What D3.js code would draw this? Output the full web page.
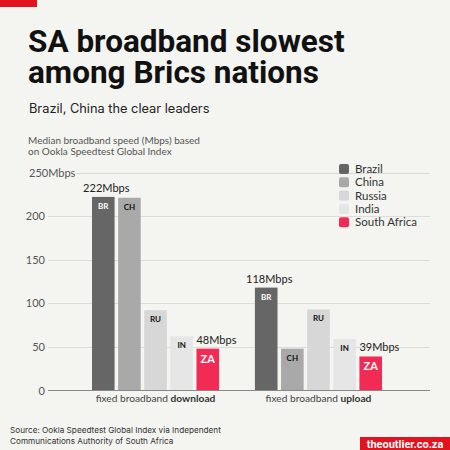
<!DOCTYPE html>
<html>
<head>
<meta charset="utf-8">
<script src="https://cdn.jsdelivr.net/npm/d3@7"></script>
<style>
  html, body { margin: 0; padding: 0; background: #f4f4f0; }
  svg { display: block; }
</style>
</head>
<body>
<script>
const width = 450;
const height = 450;

// data
const countries = ["Brazil", "China", "Russia", "India", "South Africa"];
const codes = ["BR", "CH", "RU", "IN", "ZA"];
const metrics = ["download", "upload"];
const download = [222, 221, 92, 62, 48];
const upload = [118, 48, 93, 59, 39];
const yTicks = [0, 50, 100, 150, 200, 250];
const colors = ["#666666", "#a9a9a9", "#d7d7d7", "#e6e6e6", "#f22b55"];
const codeColors = ["#ffffff", "#111111", "#111111", "#111111", "#ffffff"];

const values = { download: download, upload: upload };
const chartFont = "Lato, 'DejaVu Sans', sans-serif";

const svg = d3.select("body")
    .append("svg")
    .attr("width", width)
    .attr("height", height);

svg.append("rect")
    .attr("width", width)
    .attr("height", height)
    .attr("fill", "#f4f4f0");

// red tab top-left
svg.append("rect")
    .attr("x", 0).attr("y", 0)
    .attr("width", 37).attr("height", 7)
    .attr("fill", "#e2131f");

// title
const title = svg.append("text")
    .attr("font-family", "Roboto, sans-serif")
    .attr("font-weight", 700)
    .attr("font-size", 31.5)
    .attr("fill", "#111");
title.append("tspan").attr("x", 28).attr("y", 52).text("SA broadband slowest");
title.append("tspan").attr("x", 28).attr("y", 83).text("among Brics nations");

svg.append("text")
    .attr("x", 29).attr("y", 113)
    .attr("font-family", "Inter, sans-serif")
    .attr("font-size", 12.8)
    .attr("fill", "#222")
    .text("Brazil, China the clear leaders");

// chart description
const desc = svg.append("text")
    .attr("font-family", chartFont)
    .attr("font-size", 10)
    .attr("fill", "#555");
desc.append("tspan").attr("x", 28).attr("y", 144).text("Median broadband speed (Mbps) based");
desc.append("tspan").attr("x", 28).attr("y", 155).text("on Ookla Speedtest Global Index");

// scales
const y = d3.scaleLinear()
    .domain([0, 250])
    .range([390.5, 172.5]);

const x0 = d3.scaleBand()
    .domain(metrics)
    .range([48, 426])
    .paddingInner(0.22)
    .paddingOuter(0.27);

const x1 = d3.scaleBand()
    .domain(codes)
    .range([0, x0.bandwidth()])
    .paddingInner(0.135);

const color = d3.scaleOrdinal().domain(codes).range(colors);
const codeColor = d3.scaleOrdinal().domain(codes).range(codeColors);

// gridlines + tick labels
const grid = svg.append("g");
grid.selectAll("line")
    .data(yTicks.filter(d => d > 0))
    .enter()
    .append("line")
    .attr("x1", d => d === 250 ? 75 : 48)
    .attr("x2", 430)
    .attr("y1", d => Math.round(y(d)) + 0.5)
    .attr("y2", d => Math.round(y(d)) + 0.5)
    .attr("stroke", "#dcdcd8")
    .attr("stroke-width", 1);

grid.selectAll("text")
    .data(yTicks)
    .enter()
    .append("text")
    .attr("x", d => d === 250 ? 29 : 45)
    .attr("y", d => y(d) + 4)
    .attr("text-anchor", d => d === 250 ? "start" : "end")
    .attr("font-family", chartFont)
    .attr("font-size", 11)
    .attr("fill", "#555")
    .text(d => d === 250 ? "250Mbps" : d);

// bars
const groups = svg.selectAll("g.group")
    .data(metrics)
    .enter()
    .append("g")
    .attr("class", "group")
    .attr("transform", d => `translate(${x0(d)},0)`);

const bars = groups.selectAll("g.bar")
    .data(m => codes.map((c, i) => ({ metric: m, code: c, value: values[m][i], index: i })))
    .enter()
    .append("g")
    .attr("class", "bar");

bars.append("rect")
    .attr("x", d => x1(d.code))
    .attr("y", d => y(d.value))
    .attr("width", x1.bandwidth())
    .attr("height", d => y(0) - y(d.value))
    .attr("fill", d => color(d.code));

bars.append("text")
    .attr("x", d => x1(d.code) + x1.bandwidth() / 2)
    .attr("y", d => y(d.value) + (d.code === "ZA" ? 14 : 12))
    .attr("text-anchor", "middle")
    .attr("font-family", chartFont)
    .attr("font-weight", 700)
    .attr("font-size", d => d.code === "ZA" ? 11 : 8)
    .attr("fill", d => codeColor(d.code))
    .text(d => d.code);

// value labels for Brazil and South Africa
bars.filter(d => d.code === "BR" || d.code === "ZA")
    .append("text")
    .attr("x", d => d.code === "BR" ? x1(d.code) + x1.bandwidth() / 2 + 3 : x1(d.code))
    .attr("y", d => y(d.value) - 5)
    .attr("text-anchor", d => d.code === "BR" ? "middle" : "start")
    .attr("font-family", chartFont)
    .attr("font-size", 11)
    .attr("fill", "#222")
    .text(d => d.value + "Mbps");

// baseline
svg.append("line")
    .attr("x1", 48).attr("x2", 430)
    .attr("y1", y(0)).attr("y2", y(0))
    .attr("stroke", "#888")
    .attr("stroke-width", 1.2);

// x labels
const xl = svg.selectAll("text.xlabel")
    .data(metrics)
    .enter()
    .append("text")
    .attr("class", "xlabel")
    .attr("x", d => x0(d) + x0.bandwidth() / 2)
    .attr("y", 402)
    .attr("text-anchor", "middle")
    .attr("font-family", chartFont)
    .attr("font-size", 10.2)
    .attr("fill", "#444");
xl.append("tspan").text("fixed broadband ");
xl.append("tspan").attr("font-weight", 700).attr("fill", "#333").text(d => d);

// legend
const legend = svg.append("g")
    .selectAll("g")
    .data(countries)
    .enter()
    .append("g")
    .attr("transform", (d, i) => `translate(339,${164 + i * 13.3})`);

legend.append("rect")
    .attr("width", 10)
    .attr("height", 10)
    .attr("rx", 2)
    .attr("fill", (d, i) => colors[i]);

legend.append("text")
    .attr("x", 16)
    .attr("y", 9)
    .attr("font-family", chartFont)
    .attr("font-size", 11.5)
    .attr("fill", "#333")
    .text(d => d);

// source
const src = svg.append("text")
    .attr("font-family", "Inter, sans-serif")
    .attr("font-size", 8.2)
    .attr("fill", "#333");
src.append("tspan").attr("x", 10).attr("y", 433).text("Source: Ookla Speedtest Global Index via Independent");
src.append("tspan").attr("x", 10).attr("y", 443.5).text("Communications Authority of South Africa");

// logo
svg.append("rect")
    .attr("x", 360).attr("y", 437)
    .attr("width", 90).attr("height", 13)
    .attr("fill", "#e2131f");
svg.append("text")
    .attr("x", 405).attr("y", 447.5)
    .attr("text-anchor", "middle")
    .attr("font-family", "Roboto, sans-serif")
    .attr("font-weight", 700)
    .attr("font-size", 11)
    .attr("fill", "#fff")
    .text("theoutlier.co.za");
</script>
</body>
</html>
